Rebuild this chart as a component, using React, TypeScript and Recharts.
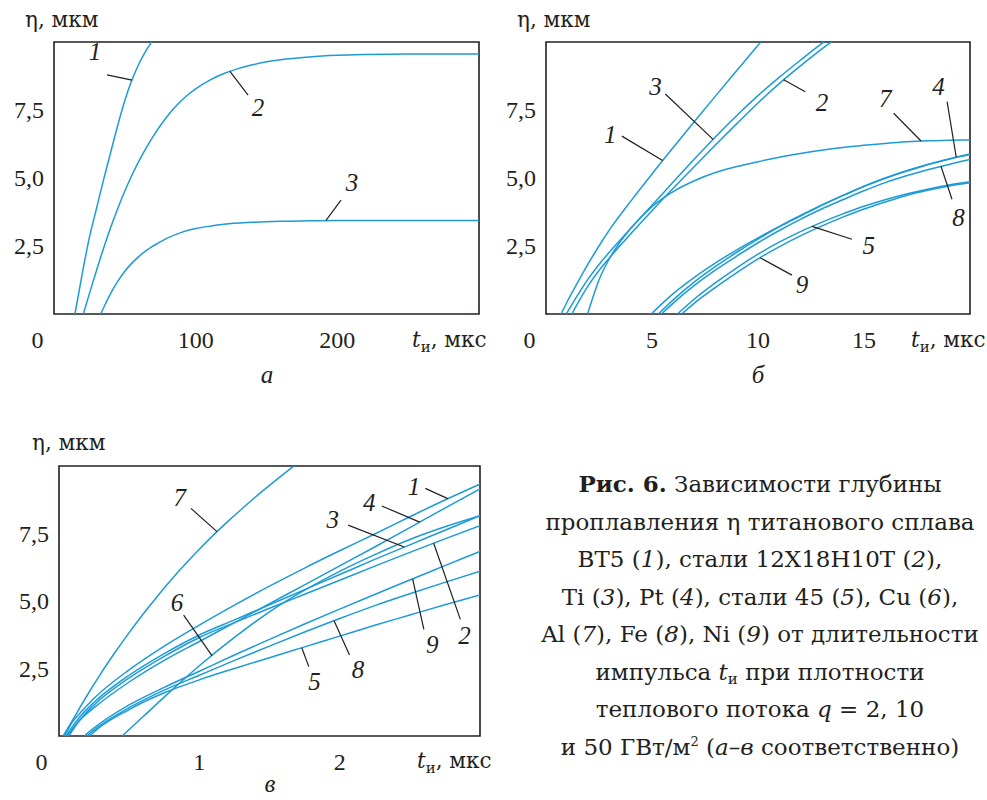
import React from 'react';
import { LineChart, Line, XAxis, YAxis, ReferenceArea, ReferenceLine, ReferenceDot } from 'recharts';

const FONT = '"Liberation Serif", "Times New Roman", serif';
const FONT_TXT = '"DejaVu Serif", "Liberation Serif", serif';
const INK = '#231f20';
const CURVE = '#1c9bd7';

// ---------- Panel а (q = 2 ГВт/м²), t in мкс, η in мкм ----------
const a1 = [[14.8, 0], [20, 1.5], [25, 2.82], [30, 3.88], [35, 4.94], [40, 5.94], [45, 6.94], [50, 7.85], [55, 8.6], [60, 9.2], [65, 9.68], [70, 10.1], [75, 10.5]];
const a2 = [[20.7, 0], [25, 0.75], [30, 1.6], [35, 2.42], [40, 3.18], [45, 3.88], [50, 4.52], [55, 5.1], [60, 5.63], [65, 6.1], [70, 6.53], [75, 6.92], [80, 7.27], [85, 7.58], [90, 7.85], [95, 8.08], [100, 8.28], [110, 8.6], [120, 8.84], [130, 9.02], [140, 9.16], [150, 9.27], [160, 9.35], [180, 9.45], [200, 9.51], [220, 9.54], [250, 9.56], [300, 9.56]];
const a3 = [[33, 0], [36, 0.34], [40, 0.76], [45, 1.2], [50, 1.57], [55, 1.87], [60, 2.12], [65, 2.33], [70, 2.5], [80, 2.79], [90, 3.0], [100, 3.14], [110, 3.23], [120, 3.3], [140, 3.37], [160, 3.41], [180, 3.43], [200, 3.44], [300, 3.44]];

// ---------- Panel б (q = 10 ГВт/м²) ----------
const b1 = [[0.71, 0], [1, 0.45], [1.5, 1.17], [2, 1.86], [2.5, 2.5], [3, 3.1], [4, 4.15], [5, 5.15], [6, 6.12], [7, 7.08], [8, 8.02], [9, 8.95], [10, 9.88], [11, 10.8]];
const b2 = [[1.22, 0], [1.5, 0.4], [2, 1.05], [2.5, 1.6], [3, 2.07], [3.5, 2.52], [4, 2.95], [5, 3.8], [6, 4.62], [7, 5.42], [8, 6.22], [9, 7.0], [10, 7.76], [11, 8.47], [12, 9.12], [13, 9.74], [14, 10.3]];
const b3 = [[0.96, 0], [1.5, 0.7], [2, 1.3], [2.5, 1.82], [3, 2.28], [3.5, 2.72], [4, 3.15], [5, 4.0], [6, 4.85], [7, 5.7], [8, 6.52], [9, 7.3], [10, 8.03], [11, 8.7], [12, 9.33], [13, 9.94], [14, 10.5]];
const b4 = [[5.3, 0], [6, 0.52], [7, 1.18], [8, 1.75], [9, 2.27], [10, 2.75], [11, 3.2], [12, 3.6], [13, 4.0], [14, 4.35], [15, 4.7], [16, 5.0], [17, 5.27], [18, 5.5], [19, 5.7], [20, 5.88]];
const b5 = [[6.2, 0], [7, 0.55], [8, 1.15], [9, 1.7], [10, 2.2], [11, 2.64], [12, 3.03], [13, 3.37], [14, 3.68], [15, 3.96], [16, 4.2], [17, 4.41], [18, 4.59], [19, 4.74], [20, 4.86]];
const b6 = [[4.97, 0], [5.5, 0.4], [6, 0.75], [7, 1.35], [8, 1.88], [9, 2.36], [10, 2.8], [11, 3.22], [12, 3.62], [13, 4.0], [14, 4.36], [15, 4.69], [16, 4.99], [17, 5.25], [18, 5.49], [19, 5.69], [20, 5.86]];
const b7 = [[1.96, 0], [2.25, 0.7], [2.5, 1.25], [3, 2.05], [3.5, 2.65], [4, 3.15], [5, 3.95], [6, 4.5], [7, 4.9], [8, 5.2], [9, 5.42], [10, 5.6], [11, 5.76], [12, 5.9], [13, 6.02], [14, 6.12], [15, 6.2], [16, 6.27], [17, 6.33], [18, 6.37], [19, 6.39], [20, 6.4]];
const b8 = [[5.45, 0], [6, 0.4], [7, 1.05], [8, 1.62], [9, 2.13], [10, 2.62], [11, 3.07], [12, 3.48], [13, 3.86], [14, 4.2], [15, 4.53], [16, 4.83], [17, 5.08], [18, 5.3], [19, 5.5], [20, 5.68]];
const b9 = [[6.4, 0], [7, 0.4], [8, 0.98], [9, 1.52], [10, 2.03], [11, 2.47], [12, 2.87], [13, 3.23], [14, 3.56], [15, 3.86], [16, 4.12], [17, 4.36], [18, 4.55], [19, 4.71], [20, 4.83]];

// ---------- Panel в (q = 50 ГВт/м²) ----------
const c1 = [[0.04, 0], [0.1, 0.55], [0.15, 0.85], [0.25, 1.4], [0.5, 2.45], [0.75, 3.33], [1.0, 4.11], [1.25, 4.85], [1.5, 5.55], [1.75, 6.22], [2.0, 6.86], [2.25, 7.48], [2.5, 8.12], [2.75, 8.74], [3.0, 9.33]];
const c2 = [[0.07, 0], [0.15, 0.6], [0.25, 1.15], [0.5, 2.15], [0.75, 2.95], [1.0, 3.65], [1.25, 4.2], [1.5, 4.73], [1.75, 5.25], [2.0, 5.77], [2.25, 6.29], [2.5, 6.8], [2.75, 7.3], [3.0, 7.79]];
const c3 = [[0.05, 0], [0.15, 0.72], [0.25, 1.25], [0.5, 2.25], [0.75, 3.05], [1.0, 3.74], [1.25, 4.3], [1.5, 4.86], [1.75, 5.42], [2.0, 5.98], [2.25, 6.54], [2.5, 7.08], [2.75, 7.62], [3.0, 8.16]];
const c4 = [[0.06, 0], [0.15, 0.6], [0.25, 1.05], [0.5, 2.0], [0.75, 2.8], [1.0, 3.5], [1.25, 4.2], [1.5, 4.9], [1.75, 5.6], [2.0, 6.3], [2.25, 7.0], [2.5, 7.72], [2.75, 8.44], [3.0, 9.15]];
const c5 = [[0.22, 0], [0.25, 0.15], [0.5, 0.98], [0.75, 1.6], [1.0, 2.08], [1.25, 2.5], [1.5, 2.9], [1.75, 3.3], [2.0, 3.7], [2.25, 4.1], [2.5, 4.48], [2.75, 4.86], [3.0, 5.22]];
const c6 = [[0.45, 0], [0.6, 0.72], [0.8, 1.68], [1.0, 2.6], [1.25, 3.65], [1.5, 4.6], [1.75, 5.4], [2.0, 6.1], [2.25, 6.72], [2.5, 7.28], [2.75, 7.75], [3.0, 8.16]];
const c7 = [[0.03, 0], [0.1, 0.62], [0.2, 1.5], [0.3, 2.33], [0.4, 3.1], [0.5, 3.83], [0.6, 4.52], [0.7, 5.17], [0.8, 5.79], [0.9, 6.37], [1.0, 6.92], [1.1, 7.44], [1.2, 7.93], [1.3, 8.4], [1.4, 8.85], [1.5, 9.28], [1.6, 9.7], [1.7, 10.1]];
const c8 = [[0.2, 0], [0.25, 0.22], [0.5, 1.05], [0.75, 1.7], [1.0, 2.25], [1.25, 2.8], [1.5, 3.33], [1.75, 3.85], [2.0, 4.35], [2.25, 4.83], [2.5, 5.27], [2.75, 5.69], [3.0, 6.1]];
const c9 = [[0.18, 0], [0.25, 0.3], [0.5, 1.15], [0.75, 1.8], [1.0, 2.4], [1.25, 3.0], [1.5, 3.58], [1.75, 4.15], [2.0, 4.7], [2.25, 5.24], [2.5, 5.78], [2.75, 6.31], [3.0, 6.84]];

// axis ticks
const yTicks = [2.5, 5, 7.5];
const aXTicks = [0, 100, 200];
const bXTicks = [0, 5, 10, 15];
const cXTicks = [0, 1, 2];

// curve labels with leader lines: [t, η] of label, leader start, leader end
type Ann = { n: string; text: number[]; from: number[]; to: number[] };
const aNotes: Ann[] = [
  { n: '1', text: [28.9, 9.65], from: [37.4, 8.79], to: [55.1, 8.6] },
  { n: '2', text: [144, 7.57], from: [137, 8.05], to: [124.2, 8.92] },
  { n: '3', text: [210.4, 4.82], from: [202.6, 4.19], to: [192, 3.44] },
];
const bNotes: Ann[] = [
  { n: '3', text: [5.16, 8.33], from: [5.63, 8.09], to: [7.88, 6.42] },
  { n: '1', text: [3.03, 6.58], from: [3.58, 6.54], to: [5.5, 5.64] },
  { n: '2', text: [13.02, 7.77], from: [12.23, 8.17], to: [11.21, 8.61] },
  { n: '7', text: [16.0, 7.89], from: [16.4, 7.38], to: [17.69, 6.36] },
  { n: '4', text: [18.52, 8.33], from: [18.92, 7.81], to: [19.35, 5.77] },
  { n: '8', text: [19.46, 3.52], from: [19.15, 4.22], to: [18.63, 5.43] },
  { n: '5', text: [15.22, 2.5], from: [14.43, 2.75], to: [12.55, 3.22] },
  { n: '9', text: [12.08, 1.07], from: [11.6, 1.43], to: [10.1, 2.07] },
];
const cNotes: Ann[] = [
  { n: '7', text: [0.86, 8.8], from: [0.94, 8.43], to: [1.126, 7.57] },
  { n: '6', text: [0.84, 4.91], from: [0.888, 4.48], to: [1.09, 2.98] },
  { n: '1', text: [2.53, 9.23], from: [2.61, 9.17], to: [2.77, 8.79] },
  { n: '4', text: [2.21, 8.62], from: [2.3, 8.52], to: [2.57, 7.92] },
  { n: '3', text: [1.95, 8.0], from: [2.06, 7.81], to: [2.46, 7.0] },
  { n: '2', text: [2.89, 3.7], from: [2.86, 4.32], to: [2.67, 7.14] },
  { n: '9', text: [2.66, 3.37], from: [2.6, 3.95], to: [2.52, 5.82] },
  { n: '8', text: [2.13, 2.44], from: [2.07, 3.0], to: [1.96, 4.27] },
  { n: '5', text: [1.82, 2.01], from: [1.78, 2.57], to: [1.73, 3.27] },
];

const pts = (arr: number[][]) => arr.map(([t, eta]) => ({ t, eta }));

interface PanelProps {
  left: number; top: number; width: number; height: number;
  margin: { top: number; right: number; bottom: number; left: number };
  xDomain: [number, number]; xTicks: number[]; zeroShift: number;
  series: number[][][];
  notes: Ann[];
}

function Panel(p: PanelProps) {
  const XTick = (props: any) => {
    const { x, y, payload } = props;
    const v = payload.value;
    return (
      <text x={x + (v === 0 ? p.zeroShift : 0)} y={y + 33.5} textAnchor="middle" fontFamily={FONT} fontSize={24} fill={INK}>
        {String(v)}
      </text>
    );
  };
  const YTick = (props: any) => {
    const { x, y, payload } = props;
    return (
      <text x={x - 10} y={y + 8} textAnchor="end" fontFamily={FONT} fontSize={24} fill={INK}>
        {Number(payload.value).toFixed(1).replace('.', ',')}
      </text>
    );
  };
  const innerX = p.xTicks.filter((v) => v !== 0);
  return (
    <div style={{ position: 'absolute', left: p.left, top: p.top }}>
      <LineChart width={p.width} height={p.height} margin={p.margin}>
        <XAxis dataKey="t" type="number" domain={p.xDomain} ticks={p.xTicks} allowDataOverflow interval={0}
          tickLine={false} axisLine={false} tickSize={0} tickMargin={0} tick={XTick} height={30} />
        <XAxis xAxisId="in" dataKey="t" type="number" domain={p.xDomain} ticks={innerX} allowDataOverflow interval={0}
          mirror tick={false} tickLine={{ stroke: INK, strokeWidth: 1.3 }} tickSize={9} axisLine={false} height={30} />
        <YAxis type="number" domain={[0, 10]} ticks={yTicks} allowDataOverflow interval={0}
          tickLine={false} axisLine={false} tickSize={0} tickMargin={0} tick={YTick} width={40} />
        <YAxis yAxisId="in" type="number" domain={[0, 10]} ticks={yTicks} allowDataOverflow interval={0}
          mirror tick={false} tickLine={{ stroke: INK, strokeWidth: 1.3 }} tickSize={8} axisLine={false} width={40} />
        <ReferenceArea x1={p.xDomain[0]} x2={p.xDomain[1]} y1={0} y2={10} fill="none" fillOpacity={0}
          stroke={INK} strokeWidth={1.6} ifOverflow="visible" />
        {p.series.map((s, i) => (
          <Line key={i} data={pts(s)} dataKey="eta" type="monotone" stroke={CURVE} strokeWidth={1.5}
            dot={false} activeDot={false} isAnimationActive={false} />
        ))}
        {p.notes.map((a, i) => (
          <ReferenceLine key={'l' + i} segment={[{ x: a.from[0], y: a.from[1] }, { x: a.to[0], y: a.to[1] }]}
            stroke={INK} strokeWidth={1.2} ifOverflow="visible" />
        ))}
        {p.notes.map((a, i) => (
          <ReferenceDot key={'d' + i} x={a.text[0]} y={a.text[1]} r={0} ifOverflow="visible"
            shape={(sp: any) => (
              <text x={sp.cx} y={sp.cy + 8} textAnchor="middle" fontFamily={FONT} fontStyle="italic"
                fontSize={25} fill={INK}>{a.n}</text>
            )} />
        ))}
      </LineChart>
    </div>
  );
}

const txt = { fontFamily: FONT_TXT, fill: INK } as const;

function XTitle({ x, y }: { x: number; y: number }) {
  return (
    <text x={x} y={y} fontSize={21.5} {...txt}>
      <tspan fontStyle="italic">t</tspan><tspan fontSize={15} dy={5}>и</tspan><tspan dy={-5}>, мкс</tspan>
    </text>
  );
}

export default function App() {
  return (
    <div style={{ position: 'absolute', left: 0, top: 0, width: 987, height: 800, background: '#fff', overflow: 'hidden' }}>
      <Panel left={0} top={0} width={490} height={400}
        margin={{ top: 42, right: 11, bottom: 56, left: 14 }}
        xDomain={[0, 300]} xTicks={aXTicks} zeroShift={-16.5}
        series={[a1, a2, a3]} notes={aNotes} />
      <Panel left={490} top={0} width={497} height={400}
        margin={{ top: 42, right: 17, bottom: 56, left: 16 }}
        xDomain={[0, 20]} xTicks={bXTicks} zeroShift={-16.5}
        series={[b1, b2, b3, b4, b5, b6, b7, b8, b9]} notes={bNotes} />
      <Panel left={0} top={420} width={500} height={380}
        margin={{ top: 46, right: 20, bottom: 34, left: 19 }}
        xDomain={[0, 3]} xTicks={cXTicks} zeroShift={-17.5}
        series={[c1, c2, c3, c4, c5, c6, c7, c8, c9]} notes={cNotes} />

      <svg width={987} height={800} style={{ position: 'absolute', left: 0, top: 0, pointerEvents: 'none' }}>
        {/* axis titles */}
        <text x={25} y={27} fontSize={21.5} {...txt}>η, мкм</text>
        <text x={517} y={27} fontSize={21.5} {...txt}>η, мкм</text>
        <text x={32} y={450} fontSize={21.5} {...txt}>η, мкм</text>

        <XTitle x={412} y={347} />
        <XTitle x={911} y={347} />
        <XTitle x={417} y={768} />

        {/* panel letters */}
        <text x={267} y={383} fontSize={25} fontStyle="italic" textAnchor="middle" fontFamily={FONT} fill={INK}>а</text>
        <text x={758} y={383} fontSize={25} fontStyle="italic" textAnchor="middle" fontFamily={FONT} fill={INK}>б</text>
        <text x={270} y={792} fontSize={25} fontStyle="italic" textAnchor="middle" fontFamily={FONT} fill={INK}>в</text>

        {/* caption */}
        <g fontSize={23} textAnchor="middle" {...txt}>
          <text x={760} y={492}><tspan fontWeight="bold">Рис. 6.</tspan> Зависимости глубины</text>
          <text x={760} y={529.5}>проплавления η титанового сплава</text>
          <text x={760} y={567}>ВТ5 (<tspan fontStyle="italic">1</tspan>), стали 12Х18Н10Т (<tspan fontStyle="italic">2</tspan>),</text>
          <text x={760} y={604.5}>Ti (<tspan fontStyle="italic">3</tspan>), Pt (<tspan fontStyle="italic">4</tspan>), стали 45 (<tspan fontStyle="italic">5</tspan>), Cu (<tspan fontStyle="italic">6</tspan>),</text>
          <text x={760} y={642}>Al (<tspan fontStyle="italic">7</tspan>), Fe (<tspan fontStyle="italic">8</tspan>), Ni (<tspan fontStyle="italic">9</tspan>) от длительности</text>
          <text x={760} y={679.5}>импульса <tspan fontStyle="italic">t</tspan><tspan fontSize={15} dy={4}>и</tspan><tspan dy={-4}> при плотности</tspan></text>
          <text x={760} y={717}>теплового потока <tspan fontStyle="italic">q</tspan> = 2, 10</text>
          <text x={760} y={754.5}>и 50 ГВт/м<tspan fontSize={13} dy={-9}>2</tspan><tspan dy={9}> (</tspan><tspan fontStyle="italic">а–в</tspan> соответственно)</text>
        </g>
      </svg>
    </div>
  );
}
